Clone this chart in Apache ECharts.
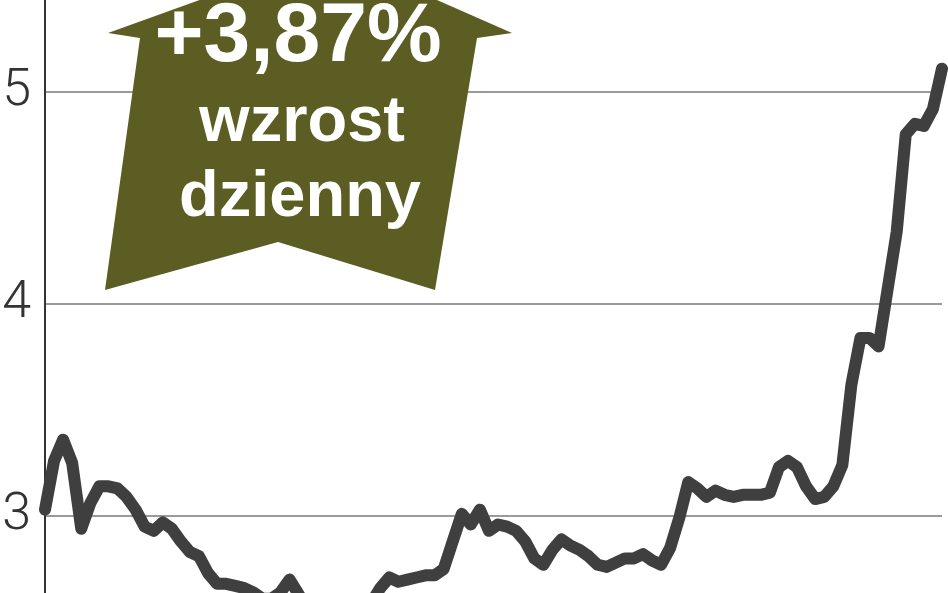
<!DOCTYPE html>
<html>
<head>
<meta charset="utf-8">
<script src="https://cdn.jsdelivr.net/npm/echarts@6/dist/echarts.min.js"></script>
<style>
  html, body { margin: 0; padding: 0; background: #fff; }
  #chart { width: 948px; height: 593px; }
</style>
</head>
<body>
<div id="chart"></div>
<script>
// kurs (zl) - kolejne sesje
var sessions = [];
var prices = [
    3.03, 3.26, 3.36, 3.25, 2.94, 3.06, 3.14, 3.14, 3.13, 3.09,
    3.03, 2.95, 2.93, 2.97, 2.94, 2.88, 2.83, 2.81, 2.73, 2.68,
    2.68, 2.67, 2.66, 2.64, 2.61, 2.61, 2.64, 2.70, 2.63, 2.56,
    2.52, 2.50, 2.49, 2.50, 2.52, 2.56, 2.59, 2.66, 2.71, 2.69,
    2.70, 2.71, 2.72, 2.72, 2.75, 2.88, 3.01, 2.96, 3.03, 2.93,
    2.96, 2.95, 2.93, 2.88, 2.80, 2.77, 2.84, 2.89, 2.86, 2.84,
    2.81, 2.77, 2.76, 2.78, 2.80, 2.80, 2.82, 2.79, 2.77, 2.85,
    2.99, 3.16, 3.13, 3.09, 3.12, 3.10, 3.09, 3.10, 3.10, 3.10,
    3.11, 3.23, 3.26, 3.23, 3.14, 3.08, 3.09, 3.14, 3.24, 3.62,
    3.84, 3.84, 3.80, 4.07, 4.34, 4.80, 4.85, 4.84, 4.92, 5.11
];
for (var i = 0; i < prices.length; i++) {
    sessions.push(String(i + 1));
}
var yTicks = [2, 3, 4, 5, 6];

var arrowText = ['+3,87%', 'wzrost', 'dzienny'];

var myChart = echarts.init(document.getElementById('chart'));

var option = {
    backgroundColor: '#ffffff',
    animation: false,
    grid: {
        left: 45,
        right: 6,
        top: -120,
        bottom: -135,
        containLabel: false,
        outerBoundsMode: 'none'
    },
    xAxis: {
        type: 'category',
        data: sessions,
        boundaryGap: false,
        show: false
    },
    yAxis: {
        type: 'value',
        min: yTicks[0],
        max: yTicks[yTicks.length - 1],
        interval: 1,
        axisLine: { show: true, lineStyle: { color: '#333333', width: 2 } },
        axisTick: { show: false },
        axisLabel: {
            margin: 14,
            fontFamily: 'Roboto',
            fontWeight: 300,
            fontSize: 52,
            color: '#333333'
        },
        splitLine: { show: true, lineStyle: { color: '#9a9a9a', width: 2 } }
    },
    series: [
        {
            type: 'line',
            data: prices,
            symbol: 'none',
            smooth: false,
            z: 3,
            lineStyle: {
                color: '#3f3f3f',
                width: 12,
                cap: 'round',
                join: 'round'
            }
        }
    ],
    graphic: [
        {
            type: 'polygon',
            z: 10,
            shape: {
                points: [[108, 33], [330, -47], [512, 33], [477, 38], [435, 290], [278, 242], [105, 290], [140, 38]]
            },
            style: { fill: '#5b5d22' }
        },
        {
            type: 'text', z: 11, x: 298, y: 38,
            style: { text: arrowText[0], fill: '#ffffff', font: 'bold 84px "Liberation Sans"', align: 'center', verticalAlign: 'middle' }
        },
        {
            type: 'text', z: 11, x: 302, y: 123,
            style: { text: arrowText[1], fill: '#ffffff', font: 'bold 65px "Liberation Sans"', align: 'center', verticalAlign: 'middle' }
        },
        {
            type: 'text', z: 11, x: 300, y: 198,
            style: { text: arrowText[2], fill: '#ffffff', font: 'bold 65px "Liberation Sans"', align: 'center', verticalAlign: 'middle' }
        }
    ]
};

myChart.setOption(option);
</script>
</body>
</html>
